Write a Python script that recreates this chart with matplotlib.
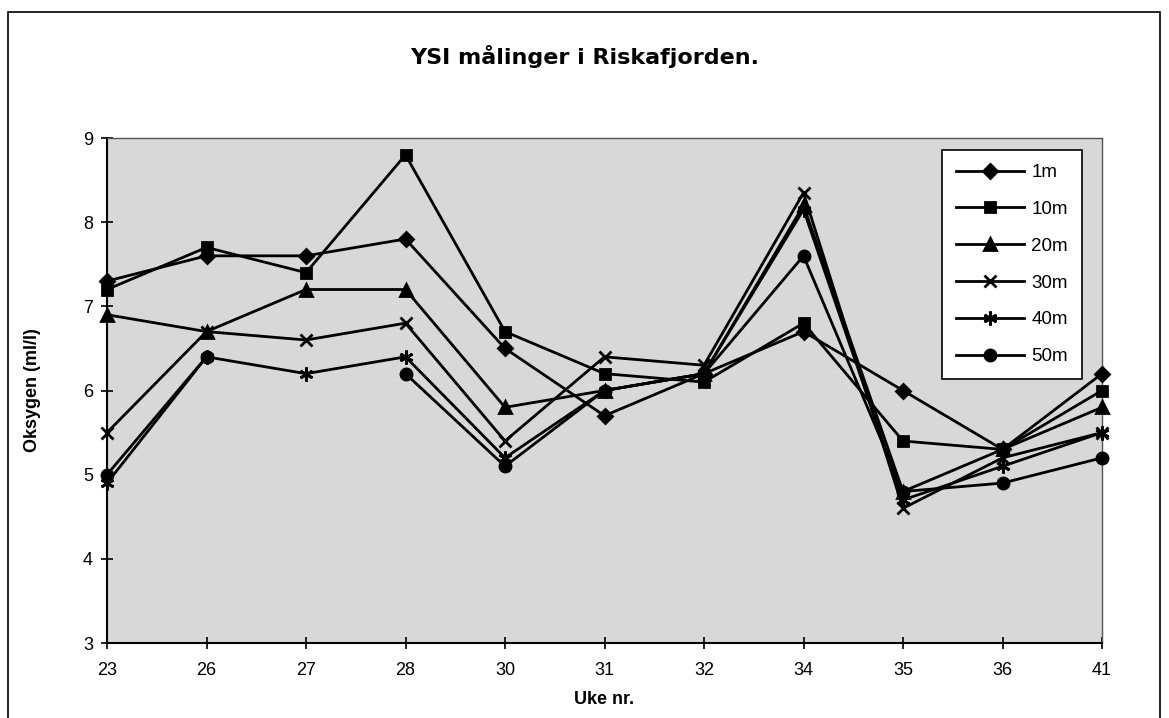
import numpy as np
import matplotlib
matplotlib.use("Agg")
import matplotlib.pyplot as plt
from matplotlib.patches import Rectangle

plt.rcParams['font.family'] = ['Liberation Sans', 'DejaVu Sans']

# week numbers (categories) and oxygen (ml/l) per depth
weeks = ["23", "26", "27", "28", "30", "31", "32", "34", "35", "36", "41"]
d1m = [7.3, 7.6, 7.6, 7.8, 6.5, 5.7, 6.2, 6.7, 6.0, 5.3, 6.2]
d10m = [7.2, 7.7, 7.4, 8.8, 6.7, 6.2, 6.1, 6.8, 5.4, 5.3, 6.0]
d20m = [6.9, 6.7, 7.2, 7.2, 5.8, 6.0, 6.2, 8.2, 4.8, 5.3, 5.8]
d30m = [5.5, 6.7, 6.6, 6.8, 5.4, 6.4, 6.3, 8.35, 4.6, 5.2, 5.5]
d40m = [4.9, 6.4, 6.2, 6.4, 5.2, 6.0, 6.2, 8.15, 4.7, 5.1, 5.5]
d50m = [5.0, 6.4, np.nan, 6.2, 5.1, 6.0, 6.2, 7.6, 4.8, 4.9, 5.2]

series = [
    ("1m", d1m, "D", 7),
    ("10m", d10m, "s", 7),
    ("20m", d20m, "^", 8),
    ("30m", d30m, "x", 9),
    ("40m", d40m, (6, 2, 0), 10),
    ("50m", d50m, "o", 8),
]

fig = plt.figure(figsize=(11.69, 7.18), dpi=100)
ax = fig.add_axes([107/1169, 1 - 643/718, (1102-107)/1169, (643-138)/718])
ax.set_facecolor("#d8d8d8")

x = np.arange(len(weeks))
for name, vals, mk, ms in series:
    ax.plot(x, vals, color="black", lw=2, marker=mk, ms=ms, mew=2,
            mfc="black", mec="black", label=name, clip_on=False, zorder=3)

ax.set_xlim(0, len(weeks) - 1)
ax.set_ylim(3, 9)
ax.set_xticks(x)
ax.set_xticklabels(weeks)
ax.set_yticks(range(3, 10))
ax.tick_params(axis="both", direction="inout", length=8, width=1.2,
               labelsize=13, colors="black")
ax.tick_params(axis="x", pad=10)
ax.tick_params(axis="y", pad=6)

for s in ["left", "bottom"]:
    ax.spines[s].set_linewidth(1.5)
    ax.spines[s].set_color("black")
for s in ["top", "right"]:
    ax.spines[s].set_linewidth(1)
    ax.spines[s].set_color("#555555")

ax.set_ylabel("Oksygen (ml/l)", fontsize=13, fontweight="bold", labelpad=30)
ax.set_xlabel("Uke nr.", fontsize=13, fontweight="bold", labelpad=8)
fig.text(0.5, 1 - 56/718, "YSI målinger i Riskafjorden.", ha="center", va="center",
         fontsize=16, fontweight="bold", family="DejaVu Sans")

leg = ax.legend(loc="upper right", bbox_to_anchor=(1082/1169, 1 - 150/718),
                bbox_transform=fig.transFigure, frameon=True, fancybox=False,
                edgecolor="black", facecolor="white", framealpha=1,
                fontsize=13.5, handlelength=3.6, labelspacing=1.05,
                borderpad=0.75, handletextpad=0.4, borderaxespad=0)
leg.get_frame().set_linewidth(1.2)

# outer chart frame
fig.patches.append(Rectangle((8/1169, -0.02), (1160-8)/1169, 1.02 - 12/718,
                             transform=fig.transFigure, fill=False,
                             edgecolor="black", lw=1.2))

fig.savefig("out.png", dpi=100)
